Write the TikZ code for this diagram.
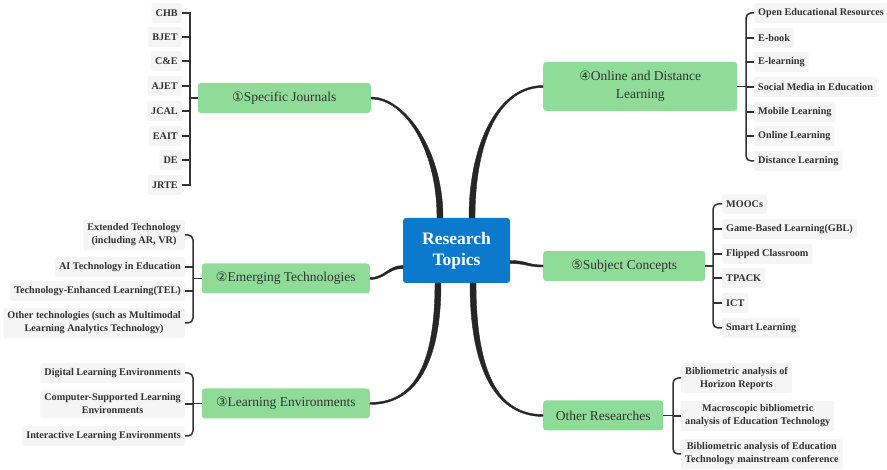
\documentclass[tikz,border=0pt]{standalone}
\usepackage{fontspec}
\setmainfont{Liberation Serif}
\newfontfamily\circfont{DejaVu Sans}
\usetikzlibrary{positioning}
\definecolor{topicblue}{RGB}{11,122,204}
\definecolor{branchgreen}{RGB}{142,220,152}
\definecolor{leafgray}{RGB}{245,245,245}
\definecolor{inkgray}{RGB}{51,51,51}
\newcommand{\circnum}[1]{{\circfont\fontsize{13}{14}\selectfont #1}}
\tikzset{
  topic/.style={fill=topicblue, rounded corners=3pt, text=white,
    font=\fontsize{17.5}{21}\selectfont\bfseries, align=center,
    minimum width=107pt, minimum height=65pt},
  branch/.style={fill=branchgreen, rounded corners=3pt, text=inkgray,
    font=\fontsize{13.5}{18}\selectfont, align=center,
    minimum height=30pt, inner xsep=6pt},
  leaf/.style={fill=leafgray, rounded corners=2pt, text=inkgray,
    font=\fontsize{10.2}{13}\selectfont\bfseries, align=center,
    inner xsep=4pt, inner ysep=4pt, minimum height=20pt},
  trunk/.style={fill=black!85, draw=black!85, line width=0.4pt},
  twig/.style={line width=1.5pt, black!80},
}
\begin{document}
\begin{tikzpicture}[x=1pt,y=-1pt]
    \useasboundingbox (0,0) rectangle (887,470);

    % draw the central topic
    \node[topic] (rt) at (456.5,250.5) {Research\\Topics};

    % draw the six branches
    \node[branch, anchor=east, minimum width=173pt] (b1) at (371,98) {\circnum{①}Specific Journals};
    \node[branch, anchor=east, minimum width=168pt] (b2) at (370,278.5) {\circnum{②}Emerging Technologies};
    \node[branch, anchor=east, minimum width=168pt] (b3) at (370,403.5) {\circnum{③}Learning Environments};
    \node[branch, anchor=west, minimum width=194pt, minimum height=49pt] (b4) at (543,86.5) {\circnum{④}Online and Distance\\Learning};
    \node[branch, anchor=west, minimum width=162pt] (b5) at (543,266) {\circnum{⑤}Subject Concepts};
    \node[branch, anchor=west, minimum width=120pt] (b6) at (543,415.5) {Other Researches};

    % draw the tapered trunks from the centre
    \fill[trunk] ([xshift=-19.5pt]rt.north) .. controls (437,150) and (405,99) .. ([yshift=-1pt]b1.east)
        -- ([yshift=1pt]b1.east) .. controls (405,97) and (443,150) .. ([xshift=-13.5pt]rt.north) -- cycle;
    \fill[trunk] ([yshift=-15pt]rt.west) .. controls (388,265.5) and (385,277.5) .. ([yshift=1pt]b2.east)
        -- ([yshift=-1pt]b2.east) .. controls (385,279.5) and (388,268.5) .. ([yshift=-18pt]rt.west) -- cycle;
    \fill[trunk] ([xshift=-21.5pt]rt.south) .. controls (435,380) and (405,402.5) .. ([yshift=1pt]b3.east)
        -- ([yshift=-1pt]b3.east) .. controls (405,404.5) and (441,380) .. ([xshift=-15.5pt]rt.south) -- cycle;
    \fill[trunk] ([xshift=18.5pt]rt.north) .. controls (475,140) and (500,87.5) .. ([yshift=-1pt]b4.west)
        -- ([yshift=1pt]b4.west) .. controls (500,85.5) and (469,140) .. ([xshift=12.5pt]rt.north) -- cycle;
    \fill[trunk] ([yshift=-10pt]rt.east) .. controls (527,260.5) and (527,265) .. ([yshift=1pt]b5.west)
        -- ([yshift=-1pt]b5.west) .. controls (527,267) and (527,263.5) .. ([yshift=-13pt]rt.east) -- cycle;
    \fill[trunk] ([xshift=19.5pt]rt.south) .. controls (476,385) and (505,414.5) .. ([yshift=1pt]b6.west)
        -- ([yshift=-1pt]b6.west) .. controls (505,416.5) and (470,385) .. ([xshift=13.5pt]rt.south) -- cycle;

    % leaves of the journals
    \foreach \y/\name [count=\i] in {13/CHB, 37/BJET, 61/C\&E, 86/AJET,
        111/JCAL, 136/EAIT, 160/DE, 185/JRTE}
        \node[leaf, anchor=east] (j\i) at (182,\y) {\name};
    \coordinate (s1) at (190,98);
    \draw[twig] (j1.east) -- (j1.east -| s1) -- (j8.east -| s1) -- (j8.east);
    \foreach \i in {2,...,7}
        \draw[twig] (j\i.east) -- (j\i.east -| s1);
    \draw[twig] (s1) -- (b1.west);

    % leaves of the emerging technologies
    \foreach \y/\name [count=\i] in {
        235/{Extended Technology\\(including AR, VR)},
        267/AI Technology in Education,
        291/Technology-Enhanced Learning(TEL),
        323/{Other technologies (such as Multimodal\\Learning Analytics Technology)}}
        \node[leaf, anchor=east] (e\i) at (185,\y) {\name};
    \coordinate (s2) at (193,278.5);
    \draw[twig, rounded corners=5pt] (e1.east) -| (s2) |- (e4.east);
    \foreach \i in {2,3}
        \draw[twig] (e\i.east) -- (e\i.east -| s2);
    \draw[twig] (s2) -- (b2.west);

    % leaves of the learning environments
    \foreach \y/\name [count=\i] in {
        373/Digital Learning Environments,
        404/{Computer-Supported Learning\\Environments},
        436/Interactive Learning Environments}
        \node[leaf, anchor=east] (l\i) at (185,\y) {\name};
    \coordinate (s3) at (193,403.5);
    \draw[twig, rounded corners=5pt] (l1.east) -| (s3) |- (l3.east);
    \draw[twig] (l2.east) -- (l2.east -| s3);
    \draw[twig] (s3) -- (b3.west);

    % leaves of online and distance learning
    \foreach \y/\name [count=\i] in {13/Open Educational Resources, 38/E-book,
        62/E-learning, 87/Social Media in Education, 112/Mobile Learning,
        136/Online Learning, 161/Distance Learning}
        \node[leaf, anchor=west] (o\i) at (754,\y) {\name};
    \coordinate (s4) at (746,86.5);
    \draw[twig, rounded corners=5pt] (o1.west) -| (s4) |- (o7.west);
    \foreach \i in {2,...,6}
        \draw[twig] (o\i.west) -- (o\i.west -| s4);
    \draw[twig] (s4) -- (b4.east);

    % leaves of the subject concepts
    \foreach \y/\name [count=\i] in {204/MOOCs, 229/Game-Based Learning(GBL),
        254/Flipped Classroom, 278/TPACK, 303/ICT, 328/Smart Learning}
        \node[leaf, anchor=west] (c\i) at (722,\y) {\name};
    \coordinate (s5) at (713,266);
    \draw[twig, rounded corners=5pt] (c1.west) -| (s5) |- (c6.west);
    \foreach \i in {2,...,5}
        \draw[twig] (c\i.west) -- (c\i.west -| s5);
    \draw[twig] (s5) -- (b5.east);

    % leaves of the other researches
    \foreach \y/\name [count=\i] in {
        378/{Bibliometric analysis of\\Horizon Reports},
        416/{Macroscopic bibliometric\\analysis of Education Technology},
        454/{Bibliometric analysis of Education\\Technology mainstream conference}}
        \node[leaf, anchor=west] (r\i) at (681,\y) {\name};
    \coordinate (s6) at (673,415.5);
    \draw[twig, rounded corners=5pt] (r1.west) -| (s6) |- (r3.west);
    \draw[twig] (r2.west) -- (r2.west -| s6);
    \draw[twig] (s6) -- (b6.east);
\end{tikzpicture}
\end{document}
